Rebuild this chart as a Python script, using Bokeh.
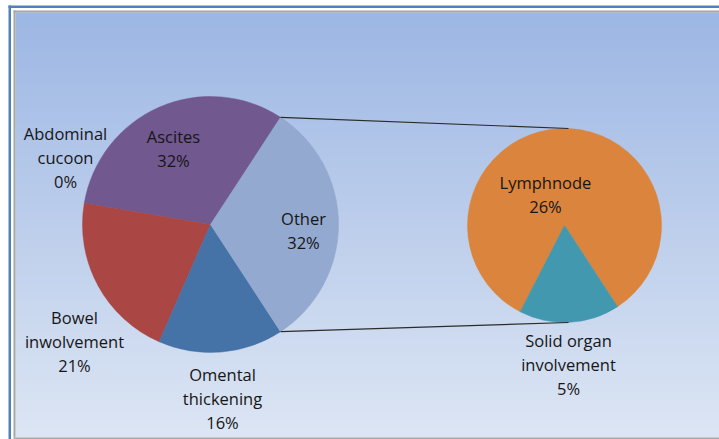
import numpy as np
from bokeh.plotting import figure
from bokeh.models import Range1d
from bokeh.embed import file_html
from bokeh.resources import INLINE
from bokeh.core.properties import value

# ---- data ----
main_names = ["Ascites", "Abdominal\ncucoon", "Bowel\ninwolvement", "Omental\nthickening"]
main_values = [31.6, 0.0, 21.1, 15.8]
sub_names = ["Lymphnode", "Solid organ\ninvolvement"]
sub_values = [26.3, 5.3]
other_name = "Other"

# ---- styles ----
main_colors = ["#71588F", "#89A54E", "#AA4643", "#4572A7"]
other_color = "#93A9CF"
sub_colors = ["#DB843D", "#4198AF"]

W, H = 719, 439
def Y(sy):  # screen y (px from top) -> data y
    return H - sy

p = figure(width=W, height=H, output_backend="svg", toolbar_location=None,
           x_axis_location=None, y_axis_location=None, min_border=0,
           x_range=Range1d(0, W), y_range=Range1d(0, H))
p.grid.visible = False
p.outline_line_color = None
p.background_fill_color = "white"
p.border_fill_color = "white"

# ---- background gradient + frame ----
top_c = np.array([157, 183, 228])
bot_c = np.array([221, 230, 244])
n = 425
t = np.linspace(0, 1, n)[:, None]  # row 0 = bottom
cols = (bot_c[None, :] * (1 - t) + top_c[None, :] * t).astype(np.uint32)
img = np.empty((n, 2), dtype=np.uint32)
rgba = (255 << 24) | (cols[:, 2] << 16) | (cols[:, 1] << 8) | cols[:, 0]
img[:, 0] = rgba
img[:, 1] = rgba
p.image_rgba(image=[img], x=15, y=Y(437), dw=W - 15, dh=425)

# blue outer frame
p.quad(left=[8, 8], right=[10.5, W], top=[Y(5), Y(5)], bottom=[Y(439), Y(7.5)],
       fill_color="#4F81BD", line_color=None)
# gray inner frame
p.quad(left=[13, 13, 13], right=[15, W, W], top=[Y(10), Y(10), Y(437)],
       bottom=[Y(437), Y(12), Y(439)], fill_color="#A6A6A6", line_color=None)

# ---- main pie ----
mcx, mcy, mr = 210, Y(224), 128
other_val = sum(sub_values)
total = sum(main_values) + other_val
half = np.pi * other_val / total

starts, ends, fc = [], [], []
a = half
for v, c in zip(main_values, main_colors):
    da = 2 * np.pi * v / total
    if v > 0:
        starts.append(a); ends.append(a + da); fc.append(c)
    a += da
starts.append(-half); ends.append(half); fc.append(other_color)
p.wedge(x=mcx, y=mcy, radius=mr, start_angle=starts, end_angle=ends,
        direction="anticlock", fill_color=fc, line_color=fc, line_width=0.5)

# ---- secondary pie ----
scx, scy, sr = 564, Y(225), 97
solid_center = np.deg2rad(-87)
sa = 2 * np.pi * sub_values[1] / other_val
s_start = solid_center - sa / 2
s_end = solid_center + sa / 2
p.wedge(x=scx, y=scy, radius=sr,
        start_angle=[s_end, s_start], end_angle=[s_start + 2 * np.pi, s_end],
        direction="anticlock", fill_color=sub_colors, line_color=sub_colors, line_width=0.5)

# ---- connector lines ----
p.segment(x0=[mcx + mr * np.cos(half), mcx + mr * np.cos(-half)],
          y0=[mcy + mr * np.sin(half), mcy + mr * np.sin(-half)],
          x1=[scx + 4, scx + 4], y1=[scy + sr, scy - sr],
          line_color="#2b2b2b", line_width=1.2)

# ---- labels ----
def pct(v):
    return f"{round(v / total * 100)}%"

labels = [f"{nm}\n{pct(v)}" for nm, v in zip(main_names, main_values)]
labels.append(f"{other_name}\n{pct(other_val)}")
labels += [f"{nm}\n{pct(v)}" for nm, v in zip(sub_names, sub_values)]
lx = [173, 65, 74, 222, 303, 545, 568]
ly = [148, 157, 341, 398, 230, 194, 364]
p.text(x=lx, y=[Y(v) for v in ly], text=labels, text_align="center",
       text_baseline="middle", text_font=value("Open Sans"), text_font_size="16.5px",
       text_line_height=1.06, text_color="#161616")

open("out.html", "w").write(file_html(p, INLINE))
